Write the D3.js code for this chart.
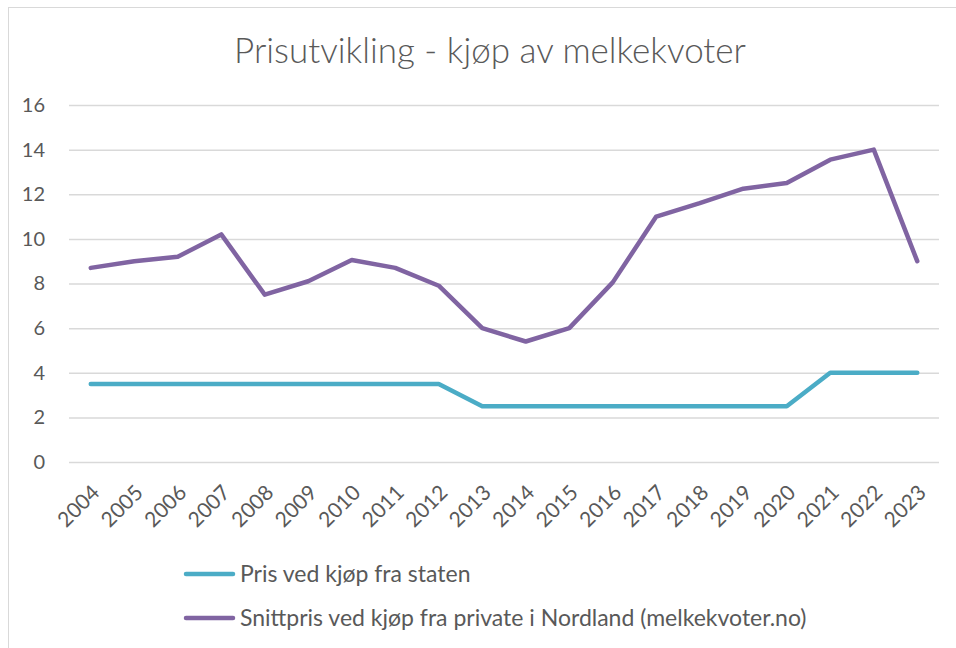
<!DOCTYPE html>
<html>
<head>
<meta charset="utf-8">
<script src="https://cdn.jsdelivr.net/npm/d3@7"></script>
<style>
  body { margin: 0; background: #fff; }
  text { font-family: Lato, "Open Sans", sans-serif; fill: #595959; }
</style>
</head>
<body>
<div id="canvas"></div>
<script>
"use strict"

/* Data */
let years = ["2004", "2005", "2006", "2007", "2008", "2009", "2010", "2011", "2012", "2013",
    "2014", "2015", "2016", "2017", "2018", "2019", "2020", "2021", "2022", "2023"];
let statePrice = [3.5, 3.5, 3.5, 3.5, 3.5, 3.5, 3.5, 3.5, 3.5, 2.5,
    2.5, 2.5, 2.5, 2.5, 2.5, 2.5, 2.5, 4, 4, 4];
let privatePrice = [8.7, 9.0, 9.2, 10.2, 7.5, 8.1, 9.05, 8.7, 7.9, 6.0,
    5.4, 6.0, 8.05, 11.0, 11.6, 12.25, 12.5, 13.55, 14.0, 9.0];
let yTicks = [0, 2, 4, 6, 8, 10, 12, 14, 16];
let seriesNames = ["Pris ved kjøp fra staten", "Snittpris ved kjøp fra private i Nordland (melkekvoter.no)"];
let seriesColors = ["#4BACC6", "#8064A2"];

/* Drawing config */
let svgWidth = 956;
let svgHeight = 648;
let plot = { left: 69, right: 939, top: 105, bottom: 462 };

let svg = d3.select("#canvas")
    .append("svg")
    .attr("width", svgWidth)
    .attr("height", svgHeight);

/* chart border (runs off the picture on right and bottom) */
svg.append("rect")
    .attr("x", 8.5)
    .attr("y", 7.5)
    .attr("width", 1000)
    .attr("height", 1000)
    .attr("fill", "none")
    .attr("stroke", "#d9d9d9")
    .attr("stroke-width", 1);

/* Scales */
let xScale = d3.scaleBand()
    .domain(years)
    .range([plot.left, plot.right]);

let yScale = d3.scaleLinear()
    .domain([0, 16])
    .range([plot.bottom, plot.top]);

/* Gridlines + y labels */
let yAxis = d3.axisLeft(yScale)
    .tickValues(yTicks)
    .tickSize(-(plot.right - plot.left))
    .tickPadding(24);

let yG = svg.append("g")
    .attr("transform", "translate(" + plot.left + ",0)")
    .call(yAxis);
yG.select(".domain").remove();
yG.selectAll(".tick line")
    .attr("stroke", "#d9d9d9")
    .attr("stroke-width", 1.5);
yG.selectAll(".tick text")
    .attr("font-size", 20)
    .attr("fill", "#595959")
    .style("font-family", "Lato, 'Open Sans', sans-serif");

/* x labels, rotated */
let xAxis = d3.axisBottom(xScale).tickSize(0).tickPadding(0);
let xG = svg.append("g")
    .attr("transform", "translate(0," + plot.bottom + ")")
    .call(xAxis);
xG.select(".domain").remove();
xG.selectAll(".tick text")
    .attr("font-size", 21)
    .attr("fill", "#595959")
    .style("font-family", "Lato, 'Open Sans', sans-serif")
    .attr("text-anchor", "end")
    .attr("dy", null)
    .attr("y", 0)
    .attr("transform", "translate(10,32) rotate(-45)");

/* Lines */
let line = d3.line()
    .x(function (d, i) { return xScale(years[i]) + xScale.bandwidth() / 2; })
    .y(function (d) { return yScale(d); });

[statePrice, privatePrice].forEach(function (series, k) {
    svg.append("path")
        .datum(series)
        .attr("d", line)
        .attr("fill", "none")
        .attr("stroke", seriesColors[k])
        .attr("stroke-width", 4.5)
        .attr("stroke-linejoin", "round")
        .attr("stroke-linecap", "round");
});

/* Title */
svg.append("text")
    .attr("x", 490)
    .attr("y", 63)
    .attr("text-anchor", "middle")
    .attr("font-size", 35)
    .attr("font-weight", 300)
    .text("Prisutvikling - kjøp av melkekvoter");

/* Legend */
for (let i = 0; i < seriesNames.length; i++) {
    let ly = 574 + i * 44;
    svg.append("line")
        .attr("x1", 186)
        .attr("x2", 233)
        .attr("y1", ly)
        .attr("y2", ly)
        .attr("stroke", seriesColors[i])
        .attr("stroke-width", 4.5)
        .attr("stroke-linecap", "round");
    svg.append("text")
        .attr("x", 240)
        .attr("y", ly)
        .attr("dy", "0.35em")
        .attr("font-size", 23)
        .text(seriesNames[i]);
}
</script>
</body>
</html>
